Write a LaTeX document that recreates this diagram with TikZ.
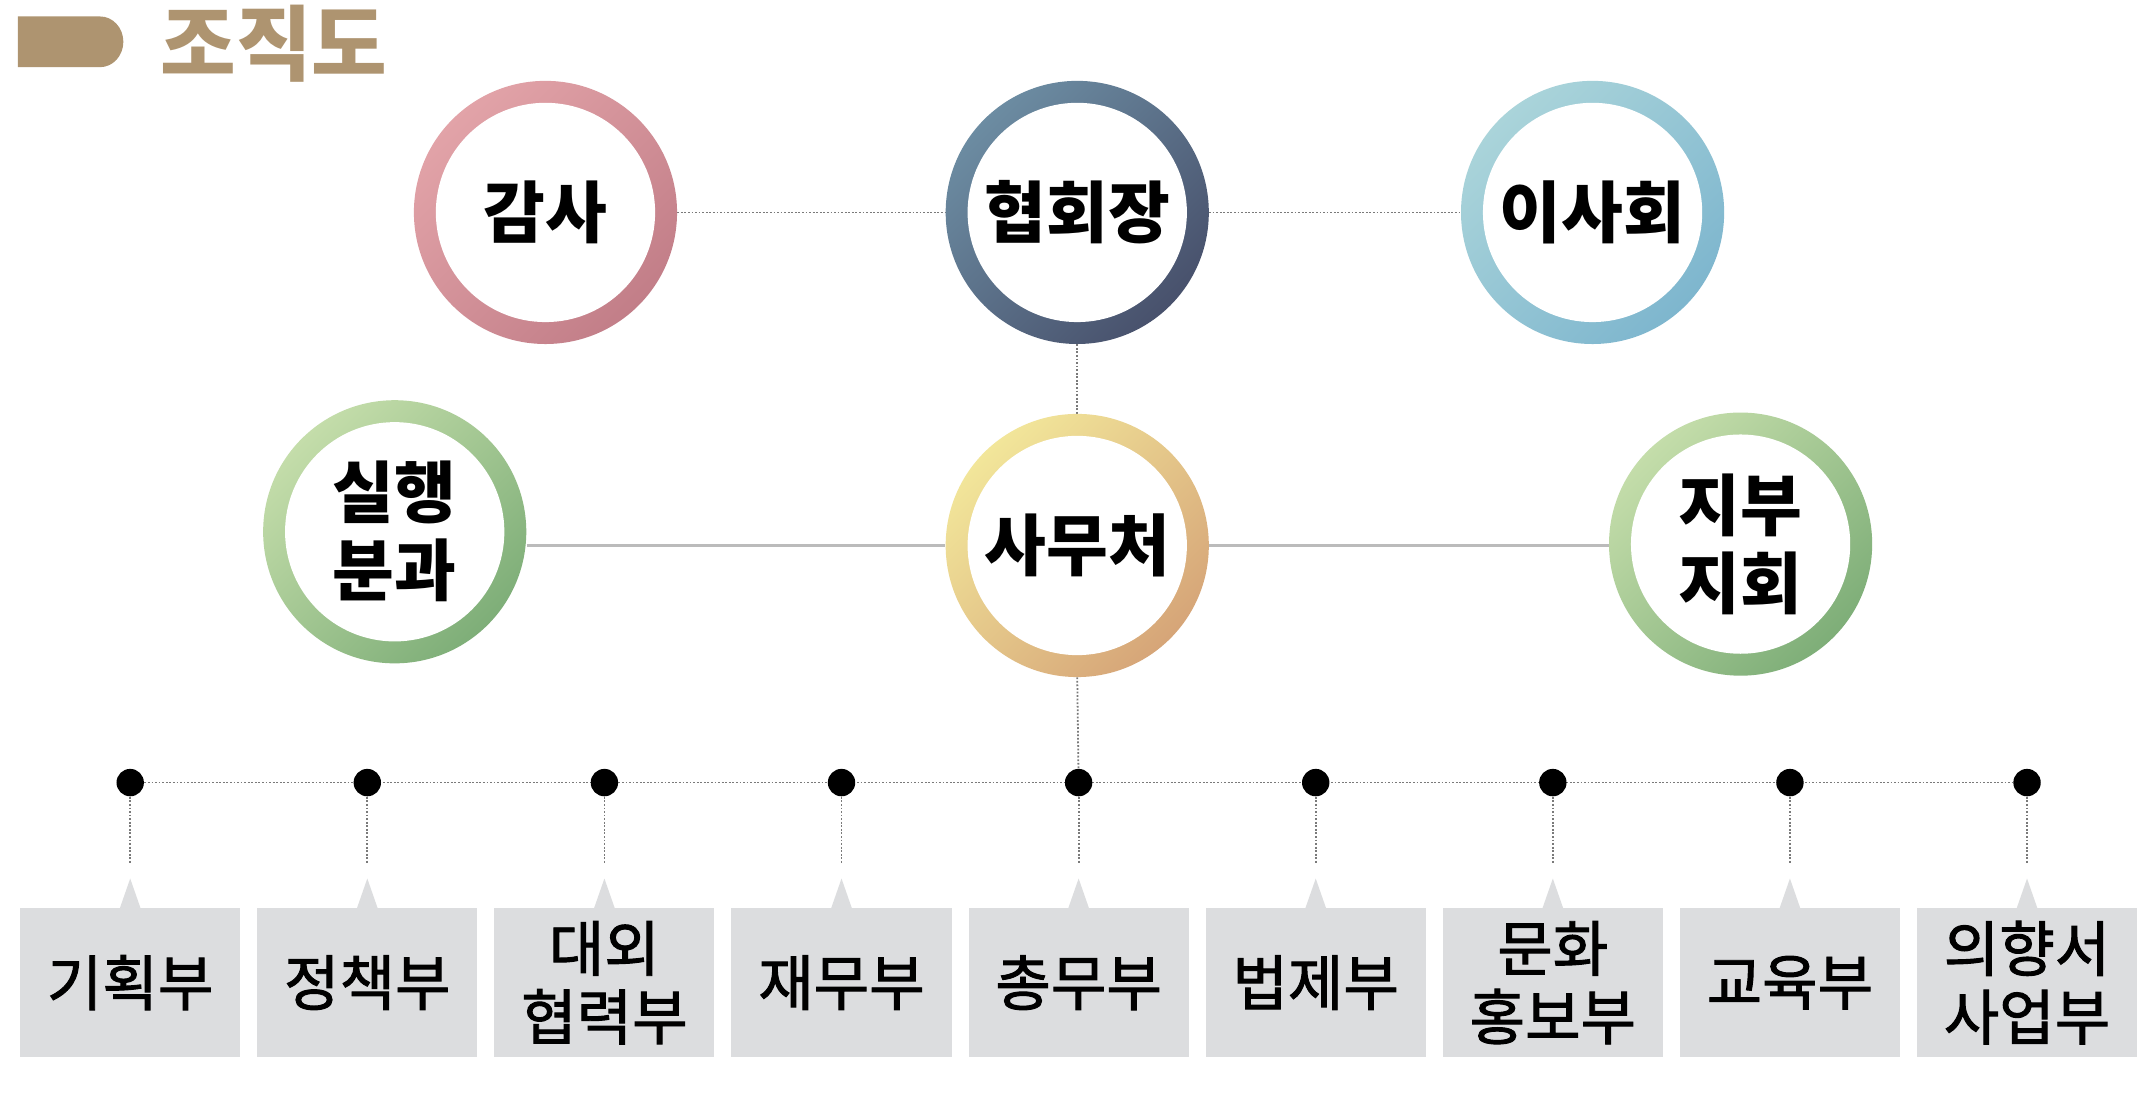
\documentclass[tikz,border=0pt]{standalone}
\usepackage{fontspec}
\newfontfamily\kr{Noto Sans CJK KR}
\newfontfamily\krb{Noto Sans CJK KR}[FakeBold=1.6]
\usetikzlibrary{calc}
\pgfdeclarelayer{background}
\pgfsetlayers{background,main}
\definecolor{titlecol}{HTML}{AE9470}
\definecolor{boxgray}{HTML}{DCDDDF}
\definecolor{linegray}{HTML}{BBBBBB}
\definecolor{dotgray}{HTML}{7A7A7A}
\definecolor{pinkA}{HTML}{E2A3A8}
\definecolor{pinkB}{HTML}{C27E88}
\definecolor{navyA}{HTML}{6C8CA2}
\definecolor{navyB}{HTML}{48516C}
\definecolor{skyA}{HTML}{AAD4DA}
\definecolor{skyB}{HTML}{7EB6CE}
\definecolor{greenA}{HTML}{C4DDAA}
\definecolor{greenB}{HTML}{7EAE78}
\definecolor{goldA}{HTML}{F2E69A}
\definecolor{goldB}{HTML}{D6A578}
\begin{document}
\begin{tikzpicture}[x=1pt,y=-1pt,
  ring/.style 2 args={circle, minimum size=192pt, inner sep=0pt, top color=#1, bottom color=#2, shading angle=45},
  hole/.style={circle, fill=white, minimum size=160pt, inner sep=0pt, align=center,
    font=\kr\bfseries\fontsize{49}{57}\selectfont},
  dotline/.style={draw=dotgray, line width=1.3pt, dash pattern=on 1.3pt off 1.3pt},
  solidline/.style={draw=linegray, line width=1.6pt},
  dotnode/.style={circle, fill=black, minimum size=20pt, inner sep=0pt},
  deptbox/.style={fill=boxgray, minimum width=160.6pt, minimum height=109pt, inner sep=0pt,
    align=center, font=\krb\fontsize{44}{50}\selectfont}
]
\begin{pgfonlayer}{background}
\fill[white] (0,0) rectangle (1568,801);
\end{pgfonlayer}
\useasboundingbox (0,0) rectangle (1568,801);

% title
\fill[titlecol] (13,12) -- (73,12) arc[start angle=-90, end angle=90, x radius=17, y radius=18.5] -- (13,49) -- cycle;
\node[anchor=west, text=titlecol, inner sep=0pt, font=\kr\bfseries\fontsize{60}{64}\selectfont] (title) at (117,32) {조직도};

% circles
\node[ring={pinkA}{pinkB}] (gamsa) at (398,155) {};
\node[hole] (gamsaT) at (gamsa) {감사};
\node[ring={navyA}{navyB}] (hyeop) at (786,155) {};
\node[hole] (hyeopT) at (hyeop) {협회장};
\node[ring={skyA}{skyB}] (isa) at (1162,155) {};
\node[hole] (isaT) at (isa) {이사회};
\node[ring={greenA}{greenB}] (silh) at (288,388) {};
\node[hole] (silhT) at (silh) {실행\\분과};
\node[ring={goldA}{goldB}] (samu) at (786,398) {};
\node[hole] (samuT) at (samu) {사무처};
\node[ring={greenA}{greenB}] (jibu) at (1270,397) {};
\node[hole] (jibuT) at (jibu) {지부\\지회};

% dots and boxes
\foreach \i/\x/\t in {1/95/기획부, 2/268/정책부, 3/441/대외\\협력부, 4/614/재무부, 5/787/총무부,
                      6/960/법제부, 7/1133/문화\\홍보부, 8/1306/교육부, 9/1479/의향서\\사업부}{
  \node[dotnode] (d\i) at (\x,571) {};
  \coordinate (c\i) at (\x,630);
  \fill[boxgray] ({\x-7.5},662.5) -- (\x,641) -- ({\x+7.5},662.5) -- cycle;
  \node[deptbox] (b\i) at (\x,717) {\t};
  \begin{pgfonlayer}{background}
    \draw[dotline] (d\i.center) -- (c\i);
  \end{pgfonlayer}
}

\begin{pgfonlayer}{background}
\draw[dotline] (gamsa.east) -- (hyeop.west);
\draw[dotline] (hyeop.east) -- (isa.west);
\draw[dotline] (hyeop.south) -- (samu.north);
\draw[solidline] (silh.east |- samu.west) -- (samu.west);
\draw[solidline] (samu.east) -- (samu.east -| jibu.west);
\draw[dotline] (samu.south) -- (d5.center);
\draw[dotline] (d1.center) -- (d9.center);
\end{pgfonlayer}
\end{tikzpicture}
\end{document}
